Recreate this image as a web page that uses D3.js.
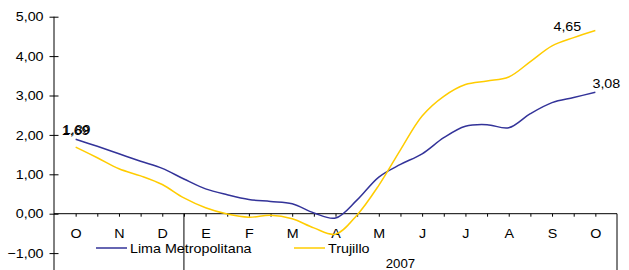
<!DOCTYPE html>
<html>
<head>
<meta charset="utf-8">
<script src="https://cdn.jsdelivr.net/npm/d3@7"></script>
<style>
  body { margin: 0; background: #fff; }
  text { font-family: Arial, "Liberation Sans", sans-serif; fill: #000; }
</style>
</head>
<body>
<div id="chart"></div>
<script>
// half-month steps, Oct 2006 -> Oct 2007
const months = ['O', 'N', 'D', 'E', 'F', 'M', 'A', 'M', 'J', 'J', 'A', 'S', 'O'];
const limaValues = [1.89, 1.71, 1.52, 1.33, 1.15, 0.88, 0.63, 0.48, 0.36, 0.31, 0.25, 0.02, -0.11,
  0.35, 0.93, 1.25, 1.52, 1.93, 2.22, 2.26, 2.18, 2.54, 2.82, 2.95, 3.08];
const trujilloValues = [1.69, 1.42, 1.14, 0.96, 0.74, 0.40, 0.15, -0.01, -0.09, -0.04, -0.13, -0.36, -0.52,
  -0.03, 0.72, 1.62, 2.48, 2.98, 3.28, 3.37, 3.47, 3.86, 4.26, 4.47, 4.65];
const yTicks = [-1, 0, 1, 2, 3, 4, 5];
const seriesNames = ['Lima Metropolitana', 'Trujillo'];
const yearLabel = '2007';

const width = 629, height = 270;
const stretch = 1.1; // the original text is a bit wide
const fmt = v => d3.format('.2f')(v).replace('.', ',');

const svg = d3.select('#chart').append('svg')
  .attr('width', width)
  .attr('height', height);

const x = d3.scaleLinear().domain([-1, 25]).range([54, 617]);
const y = d3.scaleLinear().domain([-1, 5]).range([253.1, 16.7]);

const series = [
  { name: seriesNames[0], values: limaValues, color: '#333399' },
  { name: seriesNames[1], values: trujilloValues, color: '#FFCC00' }
];

// y axis
const yAxis = d3.axisLeft(y)
  .tickValues(yTicks)
  .tickSize(4.5)
  .tickPadding(5)
  .tickFormat(fmt);
const gy = svg.append('g').attr('transform', `translate(${x(-1)},0)`).call(yAxis);
gy.select('.domain').remove();
gy.selectAll('.tick line').attr('x1', 4.5).attr('stroke', '#000');
gy.selectAll('.tick text')
  .attr('transform', `scale(${stretch},1)`)
  .style('font-size', '13px')
  .attr('fill', '#000');
svg.append('line')
  .attr('x1', x(-1)).attr('x2', x(-1))
  .attr('y1', y(5)).attr('y2', height)
  .attr('stroke', '#000');

// x axis
const xAxis = d3.axisBottom(x)
  .tickValues(d3.range(limaValues.length))
  .tickSize(3)
  .tickPadding(12)
  .tickFormat(i => (i % 2 === 0 ? months[i / 2] : ''));
const gx = svg.append('g').attr('transform', `translate(0,${y(0)})`).call(xAxis);
gx.select('.domain').remove();
gx.selectAll('.tick line').attr('stroke', '#000');
gx.selectAll('.tick text')
  .attr('transform', `scale(${stretch},1)`)
  .style('font-size', '13px')
  .attr('fill', '#000');
svg.append('line')
  .attr('x1', x(-1)).attr('x2', x(25))
  .attr('y1', y(0)).attr('y2', y(0))
  .attr('stroke', '#000');

// year separators
[5, 25].forEach(i => {
  svg.append('line')
    .attr('x1', x(i)).attr('x2', x(i))
    .attr('y1', y(0)).attr('y2', height)
    .attr('stroke', '#000');
});

svg.append('text')
  .attr('transform', `translate(${x(15)},268) scale(${stretch},1)`)
  .attr('text-anchor', 'middle')
  .style('font-size', '12px')
  .text(yearLabel);

// lines
const line = d3.line()
  .x((d, i) => x(i))
  .y(d => y(d))
  .curve(d3.curveCatmullRom.alpha(0.5));

series.forEach(s => {
  svg.append('path')
    .attr('d', line(s.values))
    .attr('fill', 'none')
    .attr('stroke', s.color)
    .attr('stroke-width', 1.5);
});

// data labels (first and last)
const last = limaValues.length - 1;
const labels = [
  { i: 0, v: trujilloValues[0], dx: 0, dy: 135 - y(trujilloValues[0]) },
  { i: 0, v: limaValues[0], dx: 1, dy: 134 - y(limaValues[0]) },
  { i: last, v: trujilloValues[last], dx: -28, dy: 0.5 },
  { i: last, v: limaValues[last], dx: 11, dy: -4.5 }
];
labels.forEach(l => {
  svg.append('text')
    .attr('transform', `translate(${x(l.i) + l.dx},${y(l.v) + l.dy}) scale(${stretch},1)`)
    .attr('text-anchor', 'middle')
    .style('font-size', '13px')
    .text(fmt(l.v));
});

// legend
const legendX = [96, 294];
series.forEach((s, k) => {
  const g = svg.append('g').attr('transform', `translate(${legendX[k]},248)`);
  g.append('line')
    .attr('x1', 0).attr('x2', 31)
    .attr('stroke', s.color)
    .attr('stroke-width', 1.5);
  g.append('text')
    .attr('transform', `translate(34,5) scale(${stretch},1)`)
    .style('font-size', '13px')
    .text(s.name);
});
</script>
</body>
</html>
